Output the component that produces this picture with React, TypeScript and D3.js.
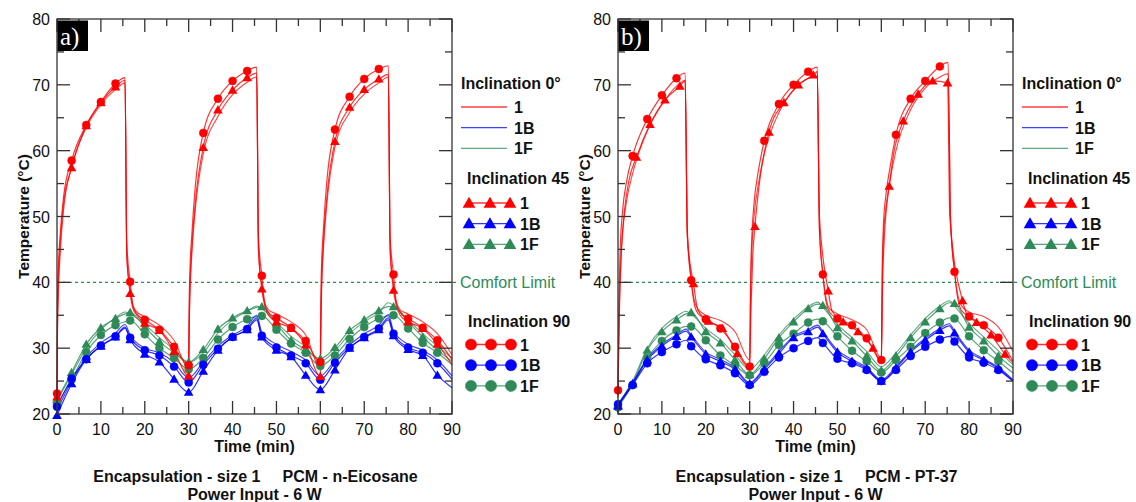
import React from "react";
import * as d3 from "d3";

// ---------- shared time bases (min) ----------
const MARK_T = [0, 3.33, 6.67, 10, 13.33, 16.67, 20, 23.33, 26.67, 30, 33.33, 36.67, 40, 43.33, 46.67, 50, 53.33, 56.67, 60, 63.33, 66.67, 70, 73.33, 76.67, 80, 83.33, 86.67];
const TB = [0, 3.33, 6.67, 10, 13.33, 15.5, 16.67, 20, 23.33, 26.67, 30, 33.33, 36.67, 40, 43.33, 45.5, 46.67, 50, 53.33, 56.67, 60, 63.33, 66.67, 70, 73.33, 75.5, 76.67, 80, 83.33, 86.67, 90];
const X_TICKS = [0, 10, 20, 30, 40, 50, 60, 70, 80, 90];
const Y_TICKS = [20, 30, 40, 50, 60, 70, 80];
const COMFORT = 40;

// ---------- panel a : n-Eicosane ----------
const A_TR = [0, 0.1, 0.3, 0.7, 1.5, 3.33, 6.67, 10, 13.33, 15.5, 15.9, 16.67, 17.3, 18.2, 20, 23.33, 26.67,
  30, 30.1, 30.3, 30.7, 31.5, 33.33, 36.67, 40, 43.33, 45.5, 45.9, 46.67, 47.3, 48.2, 50, 53.33, 56.67,
  60, 60.1, 60.3, 60.7, 61.5, 63.33, 66.67, 70, 73.33, 75.5, 75.9, 76.67, 77.3, 78.2, 80, 83.33, 86.67, 90];
const A_R90 = [23.1, 36, 42, 47, 53, 58.5, 63.9, 67.4, 70.2, 71.1, 46, 40.1, 36.5, 35.2, 34.3, 32.8, 30.2,
  27.4, 36, 42, 47, 54.5, 62.7, 67.9, 70.6, 72.1, 72.7, 47, 41.0, 37, 35.4, 34.6, 33.1, 31.1,
  27.9, 37, 43, 48, 55.5, 63.2, 68.2, 70.9, 72.4, 72.9, 47, 41.2, 37, 35.4, 34.5, 33.1, 31.2, 28.3];
const A_R45 = [22.6, 33, 40, 45.5, 52, 57.4, 63.8, 67.3, 69.7, 70.7, 44, 38.3, 36, 35, 33.8, 32.7, 29.5,
  25.8, 33, 39.5, 45, 52, 60.5, 66.2, 69.2, 71.1, 71.8, 45, 39.0, 36.5, 35, 34.0, 33.0, 30.5,
  25.7, 33, 40, 46, 53, 61.4, 66.6, 69.3, 70.9, 71.6, 45, 38.8, 36.5, 35, 34.0, 33.0, 30.6, 27.5];
const A_R0 = [22.5, 31, 38, 44, 51, 57.5, 63.5, 67.0, 69.3, 70.3, 44, 39, 36.5, 35.5, 34.8, 33.5, 31.2,
  27.0, 32, 38, 44, 51, 59.5, 65.2, 68.5, 70.4, 71.2, 45, 39.5, 37, 35.8, 35.2, 34.0, 32.0,
  27.0, 32, 39, 45, 52, 60.5, 65.8, 68.6, 70.3, 71.2, 45, 39.5, 37, 35.8, 35.2, 34.0, 32.2, 29.0];
const A_G45 = [22.2, 26.3, 30.6, 33.1, 34.5, 35.2, 35.4, 33.2, 31.0, 29.3, 27.9, 29.8, 32.9, 34.6, 35.7, 36.2, 36.3, 33.7, 31.2, 29.8, 28.4, 30.1, 32.7, 34.3, 35.7, 36.3, 36.3, 34.0, 31.7, 29.7, 28.0];
const A_G90 = [21.5, 25.2, 29.4, 32.0, 33.5, 34.0, 34.2, 32.1, 30.0, 28.5, 26.8, 28.5, 31.3, 33.2, 34.4, 34.8, 34.9, 32.8, 30.7, 29.3, 27.3, 28.9, 31.4, 33.2, 34.5, 34.9, 35.0, 33.0, 30.8, 29.3, 27.5];
const A_G0 = [22.0, 26.0, 30.0, 32.8, 34.6, 35.5, 35.2, 33.6, 31.6, 29.8, 27.8, 29.3, 32.3, 34.3, 35.6, 36.4, 36.0, 33.9, 31.8, 30.2, 28.0, 29.6, 32.2, 34.0, 35.4, 36.9, 36.5, 34.3, 32.2, 30.3, 28.5];
const A_B90 = [21.1, 25.4, 28.3, 30.4, 31.8, 33.2, 31.6, 29.7, 28.9, 27.2, 24.8, 27.5, 29.9, 31.7, 32.9, 34.6, 31.9, 30.1, 28.9, 27.7, 25.2, 27.8, 30.1, 31.7, 33.0, 34.6, 32.2, 30.1, 29.3, 27.7, 25.3];
const A_B45 = [19.8, 24.6, 28.3, 30.3, 31.7, 33.0, 31.3, 29.1, 27.9, 25.3, 23.3, 26.5, 29.7, 31.7, 32.8, 34.3, 31.7, 29.7, 28.7, 25.9, 23.7, 26.7, 30.0, 31.6, 32.8, 34.3, 31.9, 29.8, 28.9, 25.9, 24.0];
const A_B0 = [20.5, 25.0, 28.6, 30.8, 32.3, 33.6, 32.0, 30.0, 29.3, 27.8, 25.5, 27.9, 30.3, 32.0, 33.3, 35.0, 32.4, 30.6, 29.5, 28.2, 25.8, 28.2, 30.5, 32.2, 33.5, 35.1, 32.6, 30.6, 29.7, 28.2, 25.8];

// ---------- panel b : PT-37 ----------
const B_TR = [0, 0.2, 0.5, 1, 2, 3.33, 6.67, 10, 13.33, 15.3, 15.8, 16.67, 17.3, 18.2, 20, 23.33, 26.67,
  30, 30.2, 30.5, 31, 32, 33.33, 36.67, 40, 43.33, 45.4, 45.9, 46.67, 47.3, 48.2, 50, 53.33, 56.67,
  60, 60.2, 60.5, 61, 62, 63.33, 66.67, 70, 73.33, 75.2, 75.8, 76.67, 77.3, 78.2, 80, 83.33, 86.67, 90];
const B_R90 = [23.6, 36, 45, 50.5, 55.5, 59.2, 64.8, 68.4, 71.0, 71.8, 48, 40.3, 37, 35.3, 34.4, 33.0, 30.2,
  27.2, 40, 47, 52, 57, 61.5, 67.1, 70.0, 72.0, 72.7, 48, 41.2, 37.5, 35.5, 34.5, 33.5, 31.5,
  28.2, 42, 49, 53, 57.5, 62.4, 67.9, 70.6, 72.8, 73.4, 49, 41.6, 38, 35.8, 34.8, 33.5, 31.6, 28.0];
const B_R0 = [22.5, 33, 41, 47, 52.5, 56.5, 63.0, 67.0, 69.8, 70.7, 47, 40.5, 37.5, 36, 35, 34.2, 32.5,
  28.2, 38, 45, 50, 55, 59.5, 65.8, 69.2, 71.0, 71.3, 48, 41.5, 38, 36, 35.2, 34.3, 32.8,
  28.5, 40, 47, 51, 55.5, 60.0, 66.2, 69.5, 71.2, 71.7, 49, 41.8, 38.5, 36.5, 35.5, 34.8, 33.2, 29.5];
const B_T45 = [0, 0.3, 0.8, 1.5, 2.5, 4.2, 7.3, 10.7, 14.1, 15.3, 15.8, 17.2, 18.2, 20.6, 23.8, 27.2, 30,
  30.3, 30.7, 31.2, 32.2, 34.4, 37.8, 41.1, 44.5, 45.4, 45.9, 47.9, 48.8, 51.3, 54.7, 58.1, 60,
  60.3, 60.7, 61.8, 62.8, 65.0, 68.4, 71.7, 75.1, 75.6, 78.5, 79.4, 81.7, 85.0, 88.2, 90];
const B_R45 = [22.8, 35, 45, 51, 55.5, 59.0, 64.0, 67.7, 69.8, 70.6, 47, 39.8, 35.8, 34.1, 33.0, 29.2, 27.0,
  36, 44, 48.5, 55, 62.8, 67.3, 70.0, 71.5, 72.0, 50, 38.7, 35.6, 34.0, 32.5, 30.0, 27.8,
  40, 47, 54.6, 59.5, 64.5, 68.6, 70.6, 70.3, 50, 37.2, 35.3, 33.9, 32.0, 29.1, 27.8];
const B_M45 = [4.2, 7.3, 10.7, 14.1, 17.2, 20.6, 23.8, 27.2, 31.2, 34.4, 37.8, 41.1, 44.5, 47.9, 51.3, 54.7, 58.1, 61.8, 65.0, 68.4, 71.7, 75.1, 78.5, 81.7, 85.0, 88.2];
const B_G45 = [21.3, 24.6, 29.7, 32.5, 34.3, 35.2, 35.4, 32.5, 30.8, 28.2, 26.0, 28.4, 31.6, 34.0, 36.0, 36.7, 36.5, 33.1, 31.1, 28.8, 26.6, 28.8, 31.6, 34.0, 36.0, 36.9, 36.8, 33.2, 31.1, 28.8, 27.0];
const B_G90 = [21.0, 24.4, 28.5, 31.1, 32.7, 33.3, 33.3, 31.2, 28.9, 27.4, 25.9, 27.7, 30.5, 32.2, 33.9, 34.4, 34.1, 31.8, 29.6, 28.0, 26.3, 28.2, 30.2, 32.3, 33.9, 34.6, 34.5, 31.8, 29.7, 28.0, 26.2];
const B_G0 = [21.5, 25.0, 30.0, 33.0, 34.8, 35.6, 35.2, 33.0, 31.3, 29.0, 26.8, 29.0, 32.0, 34.4, 36.3, 37.0, 36.2, 33.6, 31.6, 29.5, 27.2, 29.3, 32.0, 34.5, 36.4, 37.2, 36.4, 33.8, 31.7, 29.6, 27.5];
const B_B90 = [21.5, 24.4, 27.7, 29.4, 30.6, 31.2, 30.3, 28.3, 27.4, 26.2, 24.4, 26.4, 28.6, 30.0, 31.1, 31.6, 30.8, 28.4, 27.7, 26.7, 25.0, 26.7, 28.8, 30.2, 31.3, 31.8, 31.0, 28.6, 27.8, 26.7, 25.0];
const B_B45 = [21.2, 24.6, 28.2, 30.3, 31.8, 32.6, 31.7, 29.1, 28.0, 26.8, 24.6, 26.8, 29.2, 31.6, 32.5, 33.2, 32.2, 29.4, 28.0, 26.9, 25.0, 27.0, 29.4, 31.2, 32.7, 33.4, 32.3, 29.4, 28.2, 26.9, 25.0];
const B_B0 = [21.4, 24.8, 28.4, 30.6, 32.0, 32.9, 32.0, 29.4, 28.3, 27.0, 24.8, 27.0, 29.5, 31.8, 32.8, 33.5, 32.5, 29.7, 28.3, 27.1, 25.2, 27.2, 29.6, 31.5, 33.0, 33.7, 32.6, 29.7, 28.4, 27.1, 25.2];

const RED = "#ff0000";
const BLUE = "#0000ff";
const GREEN = "#2e8b57";
const FONT = "'Liberation Sans', Arial, Helvetica, sans-serif";

type Marker = "none" | "tri" | "circle";
interface Series { t: number[]; v: number[]; color: string; marker: Marker; marks: number[] }

const S = (t: number[], v: number[], color: string, marker: Marker, marks: number[] = MARK_T): Series => ({ t, v, color, marker, marks });

const PANEL_A: Series[] = [
  S(TB, A_G0, GREEN, "none"), S(TB, A_G45, GREEN, "tri"), S(TB, A_G90, GREEN, "circle"),
  S(TB, A_B0, BLUE, "none"), S(TB, A_B45, BLUE, "tri"), S(TB, A_B90, BLUE, "circle"),
  S(A_TR, A_R0, RED, "none"), S(A_TR, A_R45, RED, "tri"), S(A_TR, A_R90, RED, "circle"),
];
const PANEL_B: Series[] = [
  S(TB, B_G0, GREEN, "none"), S(TB, B_G45, GREEN, "tri"), S(TB, B_G90, GREEN, "circle"),
  S(TB, B_B0, BLUE, "none"), S(TB, B_B45, BLUE, "tri"), S(TB, B_B90, BLUE, "circle"),
  S(B_TR, B_R0, RED, "none"), S(B_T45, B_R45, RED, "tri", B_M45), S(B_TR, B_R90, RED, "circle"),
];

const PW = 395;
const Y_TOP = 19;
const Y_BOT = 414;

const triPath = d3.symbol().type(d3.symbolTriangle).size(40)() as string;
const triPathL = d3.symbol().type(d3.symbolTriangle).size(70)() as string;

function MarkerShape({ kind, x, y, color, big }: { kind: Marker; x: number; y: number; color: string; big?: boolean }) {
  if (kind === "circle") return <circle cx={x} cy={y} r={big ? 5.6 : 4} fill={color} stroke={color} strokeWidth={0.5} />;
  if (kind === "tri") return <path d={big ? triPathL : triPath} transform={`translate(${x},${y + (big ? 1 : 0.8)})`} fill={color} />;
  return null;
}

function Panel({ left, label, pcm, series }: { left: number; label: string; pcm: string; series: Series[] }) {
  const x = d3.scaleLinear().domain([0, 90]).range([left, left + PW]);
  const y = d3.scaleLinear().domain([20, 80]).range([Y_BOT, Y_TOP]);
  const line = d3.line<number>().curve(d3.curveMonotoneX);
  const minorX = d3.range(0, 91, 5);
  const minorY = d3.range(20, 81, 5);
  const axisColor = "#333";
  const cx = left + PW / 2;
  const lg = left + PW + 9; // legend left

  const legendRows = (y0: number, kind: Marker) =>
    [["1", RED], ["1B", BLUE], ["1F", GREEN]].map(([name, col], i) => {
      const yy = y0 + i * 20.7;
      if (kind === "none") {
        return (
          <g key={name}>
            <line x1={lg} x2={lg + 46} y1={yy} y2={yy} stroke={col} strokeWidth={1.3} opacity={0.75} />
            <text x={lg + 53} y={yy + 6} fontSize={16} fontWeight="bold" fontFamily={FONT} fill="#111">{name}</text>
          </g>
        );
      }
      const xs = kind === "tri" ? [lg + 8, lg + 29, lg + 49] : [lg + 10, lg + 30, lg + 50];
      return (
        <g key={name}>
          <line x1={xs[0]} x2={xs[2]} y1={yy} y2={yy} stroke={col} strokeWidth={1.3} opacity={0.8} />
          {xs.map((xx, j) => <MarkerShape key={j} kind={kind} x={xx} y={yy} color={col} big />)}
          <text x={lg + 59} y={yy + 6} fontSize={16} fontWeight="bold" fontFamily={FONT} fill="#111">{name}</text>
        </g>
      );
    });

  return (
    <g>
      {/* comfort limit */}
      <line x1={x(0)} x2={x(90) + 6} y1={y(COMFORT)} y2={y(COMFORT)} stroke={GREEN} strokeWidth={1.2} strokeDasharray="3,3" />
      <text x={x(90) + 8} y={y(COMFORT) + 6} fontSize={16} fontFamily={FONT} fill={GREEN}>Comfort Limit</text>

      {/* series lines */}
      {series.map((s, i) => {
        const pts = s.t.map((t, k) => [x(t), y(s.v[k])] as [number, number]);
        return (
          <path key={"l" + i} d={line(pts as any) as string} fill="none" stroke={s.color}
            strokeWidth={s.marker === "none" ? 1.1 : 1.2} opacity={s.marker === "none" ? 0.75 : 0.8} />
        );
      })}
      {/* markers */}
      {series.map((s, i) =>
        s.marker === "none" ? null : (
          <g key={"m" + i}>
            {s.t.map((t, k) => (s.marks.includes(t) ? <MarkerShape key={k} kind={s.marker} x={x(t)} y={y(s.v[k])} color={s.color} /> : null))}
          </g>
        )
      )}

      {/* frame */}
      <rect x={x(0)} y={Y_TOP} width={PW} height={Y_BOT - Y_TOP} fill="none" stroke={axisColor} strokeWidth={1.3} />
      {minorX.map((t) => {
        const len = t % 10 === 0 ? 13 : 7;
        return (
          <g key={"xt" + t}>
            <line x1={x(t)} x2={x(t)} y1={Y_BOT} y2={Y_BOT - len} stroke={axisColor} strokeWidth={1.3} />
            <line x1={x(t)} x2={x(t)} y1={Y_TOP} y2={Y_TOP + len} stroke={axisColor} strokeWidth={1.3} />
          </g>
        );
      })}
      {minorY.map((v) => {
        const len = v % 10 === 0 ? 13 : 7;
        return (
          <g key={"yt" + v}>
            <line x1={x(0)} x2={x(0) + len} y1={y(v)} y2={y(v)} stroke={axisColor} strokeWidth={1.3} />
            <line x1={x(90)} x2={x(90) - len} y1={y(v)} y2={y(v)} stroke={axisColor} strokeWidth={1.3} />
          </g>
        );
      })}
      {X_TICKS.map((t) => (
        <text key={"xl" + t} x={x(t)} y={Y_BOT + 21} fontSize={16} fontFamily={FONT} textAnchor="middle" fill="#111">{t}</text>
      ))}
      {Y_TICKS.map((v) => (
        <text key={"yl" + v} x={x(0) - 7} y={y(v) + 6} fontSize={16} fontFamily={FONT} textAnchor="end" fill="#111">{v}</text>
      ))}

      {/* panel label */}
      <rect x={x(0) + 0.5} y={Y_TOP + 1.5} width={30.5} height={30.5} fill="#000" />
      <text x={x(0) + 3} y={Y_TOP + 26} fontSize={25} fontFamily="'Liberation Serif', 'Times New Roman', serif" fill="#fff">{label}</text>

      {/* axis titles */}
      <text x={cx} y={Y_BOT + 38} fontSize={16} fontWeight="bold" fontFamily={FONT} textAnchor="middle" fill="#111">Time (min)</text>
      <text transform={`translate(${left - 28},${(Y_TOP + Y_BOT) / 2}) rotate(-90)`} fontSize={15.5} fontWeight="bold" fontFamily={FONT} textAnchor="middle" fill="#111">Temperature (°C)</text>
      <text x={cx + 1} y={482} fontSize={16} fontWeight="bold" fontFamily={FONT} textAnchor="middle" fill="#111" style={{ whiteSpace: "pre" }}>{`Encapsulation - size 1     PCM - ${pcm}`}</text>
      <text x={cx} y={499.5} fontSize={16} fontWeight="bold" fontFamily={FONT} textAnchor="middle" fill="#111">Power Input - 6 W</text>

      {/* legend */}
      <text x={lg} y={89} fontSize={16} fontWeight="bold" fontFamily={FONT} fill="#111">Inclination 0°</text>
      {legendRows(107, "none")}
      <text x={lg + 6} y={184} fontSize={16} fontWeight="bold" fontFamily={FONT} fill="#111">Inclination 45</text>
      {legendRows(203, "tri")}
      <text x={lg + 7} y={327} fontSize={16} fontWeight="bold" fontFamily={FONT} fill="#111">Inclination 90</text>
      {legendRows(344.5, "circle")}
    </g>
  );
}

export default function App() {
  return (
    <svg width={1136} height={502} viewBox="0 0 1136 502" style={{ position: "absolute", left: 0, top: 0, background: "#fff" }}>
      <rect width={1136} height={502} fill="#fff" />
      <Panel left={57} label="a)" pcm="n-Eicosane" series={PANEL_A} />
      <Panel left={618} label="b)" pcm="PT-37" series={PANEL_B} />
    </svg>
  );
}
